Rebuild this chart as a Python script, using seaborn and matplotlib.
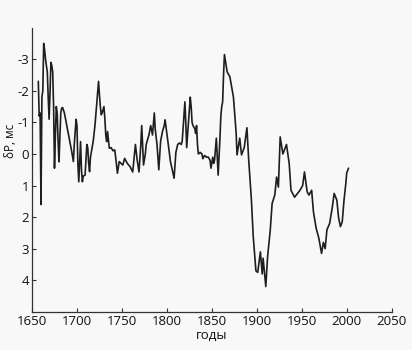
import matplotlib
matplotlib.use("Agg")
import matplotlib.pyplot as plt
import seaborn as sns
import pandas as pd

years = [1657, 1658, 1659, 1660, 1661, 1662, 1663, 1664, 1665, 1666, 1667, 1668, 1669, 1670,
         1671, 1672, 1673, 1674, 1675, 1676, 1677, 1678, 1679, 1680, 1681, 1682, 1683,
         1684, 1686, 1688, 1690, 1692, 1694, 1696, 1697, 1699, 1700, 1701, 1702, 1704, 1705,
         1706, 1707, 1709, 1710, 1711, 1712, 1713, 1714, 1715, 1716, 1718, 1720, 1722, 1724,
         1725, 1726, 1727, 1728, 1730, 1731, 1732, 1733, 1734, 1736, 1738, 1740, 1742, 1743,
         1745, 1747, 1749, 1751, 1753, 1756, 1759, 1762, 1764, 1765, 1767, 1769, 1771, 1772,
         1774, 1776, 1777, 1780, 1782, 1784, 1786, 1787, 1789, 1791, 1793, 1795, 1797, 1798,
         1800, 1802, 1804, 1806, 1808, 1810, 1812, 1814, 1816, 1817, 1818, 1820, 1821, 1822,
         1824, 1826, 1827, 1828, 1829, 1831, 1832, 1833, 1834, 1835, 1837, 1839, 1840, 1842,
         1844, 1846, 1848, 1849, 1851, 1852, 1853, 1855, 1857, 1859, 1860, 1861, 1862, 1863,
         1864, 1867, 1870, 1874, 1877, 1878, 1881, 1883, 1886, 1889, 1891, 1894, 1896, 1899,
         1901, 1904, 1906, 1907, 1910, 1912, 1915, 1917, 1920, 1922, 1924, 1926, 1929, 1933,
         1936, 1938, 1942, 1948, 1951, 1953, 1956, 1958, 1961, 1963, 1966, 1969, 1972, 1974,
         1976, 1978, 1981, 1984, 1986, 1989, 1991, 1993, 1995, 1997, 1999, 2000, 2002]
dP = [-2.3, -1.2, -1.3, 1.6, -1.8, -2.0, -3.5, -3.3, -3.0, -2.8, -2.6, -1.8, -1.1, -1.9,
      -2.9, -2.8, -2.6, -1.5, 0.45, -0.6, -1.5, -1.3, -0.4, 0.25, -0.5, -1.3, -1.45,
      -1.47, -1.3, -1.0, -0.7, -0.4, -0.1, 0.24, -0.3, -1.1, -0.9, 0.3, 0.88, -0.39, 0.5,
      0.88, 0.7, 0.67, 0.2, -0.3, -0.2, 0.3, 0.56, 0.1, -0.07, -0.39, -0.9, -1.6, -2.3,
      -1.87, -1.5, -1.24, -1.3, -1.5, -1.13, -0.6, -0.39, -0.71, -0.18, -0.2, -0.1, -0.13, 0.1,
      0.61, 0.24, 0.3, 0.35, 0.14, 0.3, 0.4, 0.57, 0.0, -0.3, 0.2, 0.57, -0.3, -0.9,
      0.35, 0.0, -0.3, -0.6, -0.9, -0.6, -1.3, -0.8, -0.3, 0.5, -0.4, -0.7, -0.9, -1.08,
      -0.65, -0.2, 0.25, 0.5, 0.77, -0.05, -0.3, -0.35, -0.3, -0.4, -0.8, -1.65, -1.0, -0.2,
      -1.0, -1.8, -1.5, -1.0, -0.9, -0.8, -0.65, -0.9, -0.3, 0.0, -0.05, 0.0, 0.15, 0.05,
      0.1, 0.1, 0.2, 0.45, 0.1, 0.3, 0.2, -0.5, 0.67, -0.5, -1.2, -1.5, -1.65, -2.5,
      -3.15, -2.6, -2.45, -1.8, -0.67, 0.03, -0.5, 0.03, -0.2, -0.83, 0.2, 1.46, 2.6, 3.7,
      3.75, 3.1, 3.8, 3.3, 4.2, 3.25, 2.4, 1.57, 1.3, 0.73, 1.05, -0.54, 0.0, -0.3,
      0.3, 1.15, 1.37, 1.15, 1.0, 0.57, 1.2, 1.3, 1.15, 1.84, 2.35, 2.67, 3.15, 2.8,
      3.0, 2.4, 2.2, 1.68, 1.25, 1.46, 2.03, 2.3, 2.15, 1.46, 0.93, 0.6, 0.45]

x_ticks = [1650, 1700, 1750, 1800, 1850, 1900, 1950, 2000, 2050]
y_ticks = [-3, -2, -1, 0, 1, 2, 3, 4]
x_label = "годы"
y_label = "δP, мс"

sns.set_style("ticks")
plt.rcParams['font.family'] = ['Open Sans', 'DejaVu Sans']
plt.rcParams['font.size'] = 9.5

bg = "#f8f8f8"
fig = plt.figure(figsize=(4.12, 3.5), dpi=100, facecolor=bg)
ax = fig.add_axes([0.0777, 0.109, 0.873, 0.812], facecolor=bg)

df = pd.DataFrame({"year": years, "dP": dP})
sns.lineplot(data=df, x="year", y="dP", ax=ax, color="#1e1e1e", linewidth=1.2)

ax.set_xlim(1650, 2050)
ax.set_ylim(5, -4)
ax.set_xticks(x_ticks)
ax.set_yticks(y_ticks)
ax.set_yticklabels([str(v) for v in y_ticks])
ax.tick_params(direction="in", length=3, width=0.8, colors="#333333", labelcolor="#111111",
               labelsize=9.5, pad=2)
ax.set_xlabel(x_label, fontsize=9.5, labelpad=1, color="#111111")
ax.set_ylabel(y_label, fontsize=8.5, color="#111111")
ax.yaxis.set_label_coords(-0.043, 0.6)
for s in ["top", "right"]:
    ax.spines[s].set_visible(False)
for s in ["left", "bottom"]:
    ax.spines[s].set_color("#333333")
    ax.spines[s].set_linewidth(0.9)

fig.savefig("out.png", dpi=100, facecolor=bg)
